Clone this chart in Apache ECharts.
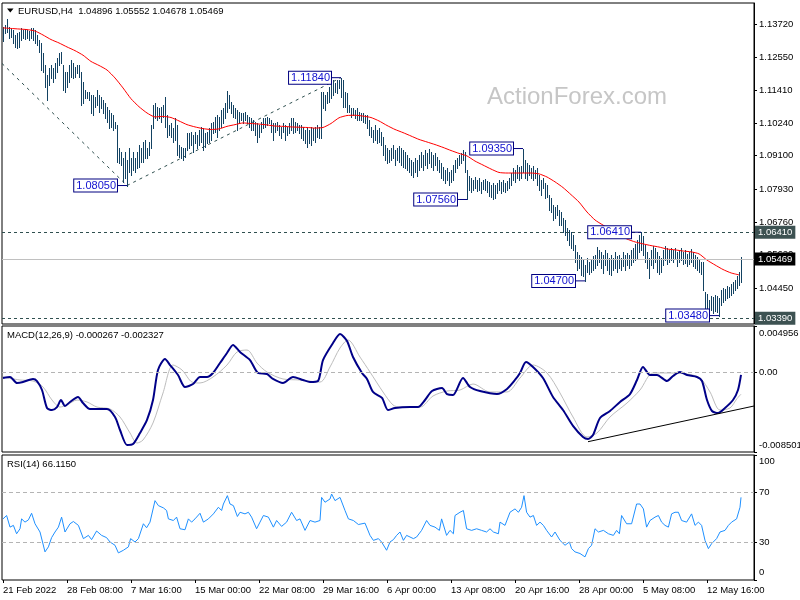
<!DOCTYPE html>
<html><head><meta charset="utf-8">
<script src="https://cdn.jsdelivr.net/npm/echarts@6/dist/echarts.min.js"></script>
<style>html,body{margin:0;padding:0;background:#fff}#c{width:800px;height:600px}</style>
</head><body><div id="c"></div>
<script>
// ---- DATA ----
const symbolName = 'EURUSD,H4';
const lastBar = {open:1.04896, high:1.05552, low:1.04678, close:1.05469};
const highs = [
1.1362,1.1369,1.1390,1.1362,1.1359,1.1352,1.1334,1.1341,1.1345,1.1359,
1.1352,1.1355,1.1352,1.1348,1.1359,1.1359,1.1352,1.1334,1.1316,1.1306,
1.1271,1.1229,1.1193,1.1218,1.1229,1.1218,1.1236,1.1253,1.1271,1.1274,
1.1229,1.1204,1.1204,1.1229,1.1246,1.1236,1.1221,1.1229,1.1229,1.1204,
1.1169,1.1141,1.1134,1.1134,1.1123,1.1123,1.1116,1.1141,1.1123,1.1116,
1.1106,1.1095,1.1081,1.1070,1.1060,1.1053,1.1028,1.1018,1.0937,1.0923,
1.0902,1.0923,1.0895,1.0937,1.0902,1.0923,1.0902,1.0923,1.0948,1.0937,
1.0958,1.0965,1.0937,1.0958,1.1018,1.1088,1.1095,1.1081,1.1077,1.1081,
1.1088,1.1116,1.1053,1.1018,1.1025,1.1007,1.1042,1.1018,1.0948,1.0940,
1.0937,1.0937,1.0990,1.0990,1.0993,1.0983,1.0993,1.0983,1.1000,1.1011,
1.1007,1.0990,1.0993,1.1007,1.1025,1.1028,1.1046,1.1053,1.1046,1.1070,
1.1077,1.1095,1.1137,1.1123,1.1099,1.1088,1.1077,1.1070,1.1063,1.1060,
1.1060,1.1063,1.1053,1.1046,1.1042,1.1035,1.1028,1.1025,1.1018,1.1028,
1.1042,1.1042,1.1046,1.1042,1.1035,1.1025,1.1025,1.1028,1.1018,1.1011,
1.1025,1.1018,1.1011,1.1025,1.1042,1.1042,1.1028,1.1025,1.1018,1.1018,
1.1011,1.1000,1.1007,1.1000,1.1011,1.1007,1.1011,1.1018,1.1011,1.1134,
1.1134,1.1123,1.1134,1.1151,1.1165,1.1176,1.1165,1.1176,1.1176,1.1184,
1.1176,1.1134,1.1130,1.1088,1.1077,1.1077,1.1070,1.1077,1.1063,1.1060,
1.1060,1.1053,1.1053,1.1035,1.1011,1.1000,1.1018,1.1000,1.1007,1.0993,
1.0976,1.0948,1.0937,1.0930,1.0937,1.0948,1.0930,1.0937,1.0944,1.0937,
1.0930,1.0923,1.0912,1.0902,1.0895,1.0888,1.0902,1.0895,1.0912,1.0923,
1.0912,1.0930,1.0919,1.0933,1.0923,1.0912,1.0919,1.0905,1.0895,1.0884,
1.0870,1.0860,1.0867,1.0853,1.0860,1.0877,1.0895,1.0902,1.0912,1.0919,
1.0930,1.0923,1.0860,1.0839,1.0832,1.0825,1.0835,1.0825,1.0832,1.0817,
1.0825,1.0828,1.0821,1.0817,1.0807,1.0814,1.0807,1.0814,1.0825,1.0817,
1.0825,1.0814,1.0821,1.0832,1.0849,1.0867,1.0860,1.0877,1.0870,1.0874,
1.0935,1.0895,1.0884,1.0877,1.0867,1.0874,1.0860,1.0867,1.0842,1.0825,
1.0832,1.0814,1.0807,1.0772,1.0761,1.0737,1.0730,1.0737,1.0719,1.0712,
1.0691,1.0684,1.0656,1.0649,1.0642,1.0631,1.0596,1.0572,1.0561,1.0554,
1.0543,1.0526,1.0551,1.0536,1.0543,1.0558,1.0561,1.0589,1.0579,1.0572,
1.0561,1.0579,1.0568,1.0551,1.0561,1.0551,1.0572,1.0558,1.0561,1.0551,
1.0572,1.0561,1.0568,1.0561,1.0579,1.0586,1.0600,1.0614,1.0631,1.0641,
1.0627,1.0596,1.0572,1.0551,1.0579,1.0593,1.0586,1.0572,1.0558,1.0551,
1.0579,1.0593,1.0586,1.0579,1.0586,1.0579,1.0586,1.0572,1.0579,1.0586,
1.0572,1.0579,1.0565,1.0572,1.0582,1.0572,1.0561,1.0554,1.0543,1.0536,
1.0536,1.0431,1.0424,1.0403,1.0417,1.0414,1.0421,1.0417,1.0410,1.0438,
1.0445,1.0442,1.0452,1.0449,1.0459,1.0466,1.0473,1.0487,1.0501,1.05552];
const lows = [
1.1313,1.1341,1.1345,1.1323,1.1327,1.1306,1.1292,1.1288,1.1292,1.1316,
1.1323,1.1320,1.1323,1.1316,1.1323,1.1316,1.1306,1.1299,1.1274,1.1211,
1.1204,1.1151,1.1106,1.1158,1.1183,1.1169,1.1183,1.1204,1.1229,1.1236,
1.1141,1.1134,1.1151,1.1169,1.1186,1.1183,1.1186,1.1200,1.1186,1.1088,
1.1095,1.1113,1.1113,1.1106,1.1060,1.1053,1.1081,1.1088,1.1063,1.1077,
1.1060,1.1042,1.1028,1.1007,1.1011,1.1000,1.1007,1.0888,1.0884,1.0877,
1.0817,1.0832,1.0805,1.0853,1.0842,1.0860,1.0853,1.0867,1.0870,1.0888,
1.0888,1.0902,1.0902,1.0912,1.0937,1.1007,1.1042,1.1035,1.1042,1.1028,
1.1046,1.1011,1.0976,1.0983,1.0976,1.0958,1.0965,1.0912,1.0905,1.0902,
1.0895,1.0905,1.0930,1.0937,1.0948,1.0923,1.0955,1.0937,1.0948,1.0958,
1.0930,1.0940,1.0955,1.0958,1.0965,1.0990,1.0993,1.0976,1.1000,1.1011,
1.1025,1.1042,1.1063,1.1077,1.1060,1.1046,1.1042,1.1000,1.1025,1.1035,
1.1025,1.1035,1.1025,1.1011,1.1000,1.1000,1.0983,1.0958,1.0976,1.0993,
1.1007,1.1011,1.1018,1.1025,1.0993,1.0965,1.0993,1.1000,1.0983,1.0972,
1.0993,1.0965,1.0983,1.0990,1.1000,1.0990,1.0993,1.1000,1.0990,1.0972,
1.0965,1.0955,1.0940,1.0955,1.0948,1.0965,1.0958,1.0976,1.0972,1.0972,
1.1077,1.1070,1.1095,1.1099,1.1113,1.1123,1.1134,1.1130,1.1148,1.1116,
1.1081,1.1081,1.1063,1.1063,1.1046,1.1053,1.1042,1.1035,1.1035,1.1035,
1.1028,1.1025,1.1007,1.0983,1.0976,1.0958,1.0965,1.0955,1.0958,1.0948,
1.0912,1.0895,1.0884,1.0888,1.0895,1.0902,1.0877,1.0895,1.0888,1.0877,
1.0870,1.0867,1.0860,1.0853,1.0842,1.0835,1.0853,1.0839,1.0860,1.0870,
1.0860,1.0877,1.0867,1.0884,1.0870,1.0860,1.0877,1.0860,1.0853,1.0832,
1.0825,1.0814,1.0825,1.0807,1.0817,1.0825,1.0853,1.0867,1.0877,1.0884,
1.0895,1.0853,1.0756,1.0789,1.0782,1.0789,1.0796,1.0786,1.0789,1.0779,
1.0793,1.0789,1.0782,1.0768,1.0765,1.0758,1.0761,1.0779,1.0789,1.0779,
1.0786,1.0782,1.0789,1.0796,1.0807,1.0825,1.0817,1.0832,1.0825,1.0832,
1.0853,1.0832,1.0825,1.0842,1.0832,1.0825,1.0832,1.0807,1.0789,1.0772,
1.0796,1.0761,1.0765,1.0719,1.0712,1.0684,1.0691,1.0702,1.0666,1.0666,
1.0642,1.0631,1.0614,1.0596,1.0586,1.0579,1.0536,1.0508,1.0515,1.0491,
1.0487,1.0470,1.0501,1.0494,1.0501,1.0508,1.0515,1.0526,1.0536,1.0515,
1.0498,1.0526,1.0508,1.0494,1.0491,1.0508,1.0515,1.0501,1.0515,1.0508,
1.0522,1.0508,1.0526,1.0515,1.0526,1.0536,1.0543,1.0551,1.0572,1.0579,
1.0561,1.0536,1.0515,1.0480,1.0526,1.0515,1.0536,1.0501,1.0494,1.0501,
1.0526,1.0543,1.0529,1.0536,1.0543,1.0536,1.0551,1.0522,1.0536,1.0543,
1.0529,1.0533,1.0522,1.0529,1.0536,1.0522,1.0515,1.0508,1.0501,1.0494,
1.0438,1.0368,1.0361,1.0361,1.0368,1.0357,1.0364,1.0361,1.0348,1.0385,
1.0396,1.0403,1.0410,1.0414,1.0421,1.0427,1.0438,1.0445,1.0456,1.04678];
// moving average, one reading every 4 bars
const maStep = 4;
const maVals = [
1.1359,1.1357,1.1355,1.1353,1.1348,1.1334,1.1318,1.1306,1.1292,1.1279,
1.1263,1.1241,1.1227,1.1211,1.1183,1.1148,1.1110,1.1082,1.1060,1.1046,
1.1048,1.1044,1.1032,1.1019,1.1011,1.1005,1.1002,1.1004,1.1013,1.1019,
1.1025,1.1023,1.1021,1.1018,1.1014,1.1013,1.1011,1.1010,1.1009,1.1007,
1.1009,1.1023,1.1043,1.1051,1.1052,1.1049,1.1044,1.1032,1.1016,1.1002,
1.0991,1.0979,1.0967,1.0958,1.0949,1.0939,1.0928,1.0918,1.0909,1.0891,
1.0877,1.0863,1.0851,1.0849,1.0849,1.0849,1.0849,1.0846,1.0835,1.0818,
1.0798,1.0773,1.0747,1.0712,1.0684,1.0666,1.0649,1.0631,1.0617,1.0607,
1.0600,1.0594,1.0589,1.0582,1.0579,1.0575,1.0572,1.0565,1.0543,1.0526,
1.0510,1.0498,1.0491];
const macdIdx = [0,3.5,7,10,15,17,19.5,22,24.5,27,29,31,33.5,37.5,40,43.5,52,56,58.5,62,65,68.5,72,75,77.5,81,83.5,87.5,91,95,98.5,102,105,108.5,112,115,118.5,123.5,127.5,132,135,140,145,150,153.5,157.5,160,165,168.5,172,175,179.5,182,185,189.5,192.5,196,203.5,207.5,211,214.5,219.5,222,225,230,233.5,238.5,247,252,256,258.5,261.5,265,270,275,280,285,290,292.5,295,298.5,303.5,308.5,313.5,317,320,323.5,327,332,335,338.5,342,347,349.5,352,354.5,357.5,361,365,367.5,369];
const macdVals = [-0.00060,-0.00049,-0.00113,-0.00103,-0.00070,-0.00092,-0.00188,-0.00380,-0.00402,-0.00370,-0.00295,-0.00359,-0.00316,-0.00263,-0.00327,-0.00391,-0.00391,-0.00476,-0.00615,-0.00775,-0.00765,-0.00647,-0.00508,-0.00295,0.00026,0.00143,0.00079,-0.00028,-0.00156,-0.00124,-0.00049,-0.00049,-0.00006,0.00100,0.00207,0.00293,0.00218,0.00132,-0.00006,-0.00017,-0.00070,-0.00113,-0.00049,-0.00081,-0.00103,-0.00092,0.00132,0.00314,0.00410,0.00335,0.00164,-0.00006,-0.00070,-0.00209,-0.00273,-0.00402,-0.00380,-0.00370,-0.00370,-0.00295,-0.00199,-0.00167,-0.00231,-0.00241,-0.00060,-0.00156,-0.00199,-0.00231,-0.00177,-0.00081,-0.00006,0.00111,0.00058,-0.00060,-0.00263,-0.00402,-0.00572,-0.00690,-0.00711,-0.00669,-0.00487,-0.00412,-0.00316,-0.00231,-0.00081,0.00058,-0.00028,-0.00028,-0.00092,-0.00038,0.00004,-0.00028,-0.00049,-0.00092,-0.00295,-0.00412,-0.00434,-0.00380,-0.00295,-0.00188,-0.000267];
const sigIdx = [0,8.5,15,20,24.5,28.5,32,37,42,47,53.5,58.5,63.5,67,70,75,80,85,89.5,94.5,98.5,105,112,117,122,127,132,140,148.5,158.5,163.5,168.5,172.5,178.5,183.5,190,195,198.5,208.5,215,222,228.5,235,243.5,252,258.5,265,272,278.5,285,292,297,303.5,312,318.5,325,332,342,348.5,353.5,358.5,363.5,367,369];
const sigVals = [-0.00049,-0.00081,-0.00092,-0.00156,-0.00295,-0.00370,-0.00348,-0.00295,-0.00316,-0.00370,-0.00391,-0.00476,-0.00647,-0.00754,-0.00722,-0.00540,-0.00220,0.00079,0.00026,-0.00103,-0.00113,-0.00049,0.00079,0.00218,0.00239,0.00100,0.00004,-0.00070,-0.00081,-0.00103,0.00058,0.00261,0.00346,0.00164,0.00004,-0.00209,-0.00348,-0.00370,-0.00370,-0.00252,-0.00199,-0.00188,-0.00124,-0.00209,-0.00209,-0.00060,0.00079,-0.00006,-0.00220,-0.00476,-0.00690,-0.00647,-0.00476,-0.00327,-0.00188,-0.00006,-0.00006,-0.00017,-0.00060,-0.00209,-0.00402,-0.00380,-0.00280,-0.002327];
const rsiIdx = [0,1.8,3.5,5.2,6.8,8.5,9.3,11,12.7,14.3,16,18.5,21,22.7,24.3,26,27.7,29.3,31,33.5,35.2,37.7,40.2,42.7,44.3,46.8,49.3,51.8,53.5,56,57.7,60.2,62.7,63.8,66,67.7,70.2,71.8,73.5,76,77.7,80.2,81.8,82.7,85.2,86.8,88.5,91,92.7,94.3,96,98.5,100.2,102.7,105.2,107.7,109.3,110.2,112.2,113.5,115.2,117.2,118.5,121,122.7,124.3,126.8,128.5,130.2,132.7,135.2,136.8,139.3,141.8,144.3,146.8,148.5,151,153.5,156,158.5,159.3,161,163.5,164.3,166,168.5,171,172.7,175.2,177.7,181,183.5,185.2,187.7,189.3,191.8,193.5,195.2,196.8,198.5,200.2,201.8,205.2,206.8,209.3,211.8,213.5,216,218.2,219.3,221.8,223.5,225.2,226,228.5,230.2,231.8,234.3,236.8,239.3,241.8,243.5,245.2,247.7,248.5,251,253.5,256,257.7,259.3,260.5,261.8,263.5,265.2,266.8,268.5,270.2,271.8,274.3,276,278.5,281,283.2,284.3,286,288.5,291,292.7,294.3,296,297.7,300.2,302.7,305.2,306.8,308.2,309.3,311.8,314.3,316.8,318.5,320.2,321.8,323.5,326,327.7,329.3,331,332.7,334.3,336,337.7,339.3,341.8,344.3,346,347.7,349.3,351,352.7,354.3,356.8,358.5,361,362.7,364.3,366.8,368.5,369];
const rsiVals = [48.9,51.6,42.3,43.7,37.0,41.0,48.9,46.3,48.1,53.4,45.0,38.4,22.5,26.5,33.9,38.4,42.3,50.3,38.4,45.0,46.8,43.7,33.1,35.7,32.3,39.2,35.7,33.9,30.4,27.8,21.7,23.8,26.5,33.1,30.4,33.1,45.0,41.8,46.3,63.5,59.5,57.7,55.6,48.9,47.6,50.3,41.0,40.2,48.9,46.3,48.9,53.4,46.3,48.9,52.9,58.2,55.6,60.8,67.5,60.8,59.5,50.8,54.2,52.9,54.2,50.3,41.0,46.3,51.6,50.3,42.3,47.6,42.9,46.3,54.2,47.6,48.9,39.7,47.6,46.3,47.6,66.1,62.2,64.8,68.8,63.5,66.1,55.6,48.9,47.6,44.4,45.5,35.7,31.7,33.1,30.4,23.8,30.4,32.3,35.7,38.4,31.7,35.7,33.1,34.4,39.7,47.6,43.7,42.3,39.7,48.9,35.7,39.7,37.0,51.6,54.2,55.6,41.0,39.7,41.0,39.7,38.4,41.0,38.4,37.0,46.3,43.7,54.2,56.9,54.2,58.2,67.5,54.2,50.3,51.6,43.7,46.3,43.7,39.7,34.4,38.4,31.7,27.8,30.4,25.1,22.5,21.2,18.5,25.1,27.8,41.0,38.4,39.7,37.0,35.7,39.7,37.0,51.6,45.0,45.0,60.8,60.8,56.9,42.3,47.6,50.3,51.6,46.3,43.7,42.3,52.9,54.2,54.2,47.6,46.3,52.9,43.7,46.3,43.7,31.7,25.1,29.1,33.1,38.4,39.7,43.7,46.3,48.9,58.2,66.115];
const macdTrend = [[292.5,-0.0074],[375.5,-0.00359]];
const priceTrend1 = [[-0.5,1.1234],[62,1.0805]];
const priceTrend2 = [[62,1.0805],[169,1.1184]];
const annIdx = [62,169,232,260,291,319,358];
const annPrice = [1.08050,1.11840,1.07560,1.09350,1.04700,1.06410,1.03480];
const levelLines = [1.06410, 1.03390];
const priceTicks = [1.13720,1.12550,1.11410,1.10240,1.09100,1.07930,1.06760,1.05620,1.04450];
const macdTicks = [0.004956, 0, -0.008501];
const rsiTicks = [100,70,30,0];
const rsiLevels = [70,30];
const tickIdx = [0,32,64,96,128,160,192,224,256,288,320,352];
const tickLabels = ['21 Feb 2022','28 Feb 08:00','7 Mar 16:00','15 Mar 00:00','22 Mar 08:00','29 Mar 16:00','6 Apr 00:00','13 Apr 08:00','20 Apr 16:00','28 Apr 00:00','5 May 08:00','12 May 16:00'];
const macdLast = -0.000267, sigLast = -0.002327, rsiLast = 66.1150;

// ---- CHECKS ----
if (highs.length !== lows.length) throw new Error('bar arrays ' + highs.length + ' ' + lows.length);
if (macdIdx.length !== macdVals.length) throw new Error('macd ' + macdIdx.length + ' ' + macdVals.length);
if (sigIdx.length !== sigVals.length) throw new Error('sig ' + sigIdx.length + ' ' + sigVals.length);
if (rsiIdx.length !== rsiVals.length) throw new Error('rsi ' + rsiIdx.length + ' ' + rsiVals.length);

// ---- CHART ----
const FONT = '"Liberation Sans", Arial, sans-serif';
const FS = 9.5;
const barColor = '#134262';
const chart = echarts.init(document.getElementById('c'), null, {renderer:'canvas'});
const XMIN = -0.5, XMAX = 375.5;

function xAxisCfg(gi, showLabels) {
  return {
    type:'value', gridIndex:gi, min:XMIN, max:XMAX,
    axisLine:{show:false}, splitLine:{show:false},
    axisTick:{show:showLabels, customValues:tickIdx, length:3, lineStyle:{color:'#000'}},
    axisLabel:{show:showLabels, customValues:tickIdx, align:'left', margin:5,
      fontSize:FS, fontFamily:FONT, color:'#000',
      formatter:v => tickLabels[tickIdx.indexOf(Math.round(v))] || ''}
  };
}
function edgeRich() {
  const base = {fontSize:FS, fontFamily:FONT, color:'#000'};
  return {
    t:Object.assign({padding:[15,0,0,0]}, base), b:Object.assign({padding:[0,0,13,0]}, base),
    t2:Object.assign({padding:[13,0,0,0]}, base), b2:Object.assign({padding:[0,0,15,0]}, base)
  };
}
function yAxisCfg(gi, min, max, ticks, fmt) {
  return {
    type:'value', gridIndex:gi, position:'right', min:min, max:max, scale:true,
    axisLine:{show:true, onZero:false, lineStyle:{color:'#000'}},
    splitLine:{show:false},
    axisTick:{show:true, customValues:ticks, length:3, lineStyle:{color:'#000'}},
    axisLabel:{show:true, customValues:ticks, margin:5, fontSize:FS, fontFamily:FONT, color:'#000',
      formatter:fmt, rich:edgeRich()}
  };
}

const series = [];
// price bars
series.push({
  type:'custom', name:'bars', xAxisIndex:0, yAxisIndex:0,
  data: highs.map((h,i)=>[i,h,lows[i]]),
  encode:{x:0, y:[1,2]},
  renderItem:(params, api) => {
    const p1 = api.coord([api.value(0), api.value(1)]);
    const p2 = api.coord([api.value(0), api.value(2)]);
    const x = Math.round(p1[0]) + 0.5;
    return {type:'line', shape:{x1:x, y1:Math.round(p1[1]), x2:x, y2:Math.round(p2[1])+1},
      style:{stroke:barColor, lineWidth:1}};
  },
  z:3, silent:true
});
// moving average + level lines
series.push({
  type:'line', name:'ma', xAxisIndex:0, yAxisIndex:0,
  data: maVals.map((v,k)=>[k*maStep, v]), symbol:'none', smooth:0.2,
  lineStyle:{color:'#ff0000', width:1}, z:4, silent:true,
  markLine:{
    silent:true, symbol:['none','none'], animation:false, precision:5,
    data:[
      {yAxis:levelLines[0], lineStyle:{type:[3,3], color:'#2f4f4f', width:1},
        label:{backgroundColor:'#3d5252'}},
      {yAxis:lastBar.close, lineStyle:{type:'solid', color:'#c0c0c0', width:1},
        label:{backgroundColor:'#000'}},
      {yAxis:levelLines[1], lineStyle:{type:[3,3], color:'#2f4f4f', width:1},
        label:{backgroundColor:'#3d5252'}}
    ],
    label:{show:true, position:'end', distance:1, color:'#fff', fontSize:FS, fontFamily:FONT,
      padding:[2,3,1,3], formatter:p => Number(p.value).toFixed(5)}
  }
});
// dashed price trend lines
[priceTrend1, priceTrend2].forEach(tr => series.push({
  type:'line', xAxisIndex:0, yAxisIndex:0, data:tr, symbol:'none', silent:true,
  lineStyle:{color:'#2f4f4f', width:1, type:[3,4]}, z:2
}));
// annotation boxes with connectors
annIdx.forEach((ix,k) => {
  const p = annPrice[k];
  series.push({
    type:'line', xAxisIndex:0, yAxisIndex:0, silent:true, z:6,
    symbol:'rect', symbolSize:0.01, itemStyle:{color:'#000080'},
    lineStyle:{color:'#000080', width:1},
    data:[
      {value:[ix-5, p], label:{show:true, position:'left', distance:0, formatter:p.toFixed(5),
        color:'#1010d0', fontSize:11, fontFamily:FONT, backgroundColor:'#fff',
        borderColor:'#000080', borderWidth:1, padding:[1,1,0,2]}},
      {value:[ix, p]}
    ]
  });
});
// MACD
series.push({
  type:'line', name:'macd', xAxisIndex:1, yAxisIndex:1, silent:true,
  data: macdIdx.map((x,k)=>[x, macdVals[k]]), symbol:'none', smooth:0.25,
  lineStyle:{color:'#000088', width:2}, z:4
});
series.push({
  type:'line', name:'signal', xAxisIndex:1, yAxisIndex:1, silent:true,
  data: sigIdx.map((x,k)=>[x, sigVals[k]]), symbol:'none', smooth:0.3,
  lineStyle:{color:'#bdbdbd', width:1}, z:3,
  markLine:{silent:true, symbol:['none','none'], animation:false, label:{show:false}, precision:6,
    lineStyle:{color:'#b4b4b4', type:[4,3], width:1}, data:[{yAxis:0}]}
});
series.push({
  type:'line', xAxisIndex:1, yAxisIndex:1, silent:true, data:macdTrend, symbol:'none',
  lineStyle:{color:'#000', width:1}, z:5
});
// RSI
series.push({
  type:'line', name:'rsi', xAxisIndex:2, yAxisIndex:2, silent:true,
  data: rsiIdx.map((x,k)=>[x, rsiVals[k]]), symbol:'none',
  lineStyle:{color:'#1e90ff', width:1}, z:4,
  markLine:{silent:true, symbol:['none','none'], animation:false, label:{show:false},
    lineStyle:{color:'#b4b4b4', type:[4,3], width:1}, data:rsiLevels.map(v=>({yAxis:v}))}
});

const grids = [
  {left:2, top:3, width:752, height:321},
  {left:2, top:326, width:752, height:126},
  {left:2, top:455, width:752, height:125}
].map(g => Object.assign(g, {show:true, borderColor:'#000', borderWidth:1, backgroundColor:'transparent', containLabel:false, outerBoundsMode:'none'}));

const option = {
  animation:false,
  backgroundColor:'#fff',
  textStyle:{fontFamily:FONT},
  grid:grids,
  xAxis:[xAxisCfg(0,false), xAxisCfg(1,false), xAxisCfg(2,true)],
  yAxis:[
    yAxisCfg(0, 1.03185, 1.14464, priceTicks, v => v.toFixed(5)),
    yAxisCfg(1, macdTicks[2], macdTicks[0], macdTicks, v => {
      if (Math.abs(v) < 1e-9) return '0.00';
      if (v > 0) return '{t|' + v.toFixed(6) + '}';
      return '{b|' + v.toFixed(6) + '}';
    }),
    yAxisCfg(2, 0, 100, rsiTicks, v => v === 100 ? '{t2|100}' : (v === 0 ? '{b2|0}' : String(v)))
  ],
  series:series,
  graphic:[
    {type:'text', x:577, y:97, z:0, silent:true,
      style:{text:'ActionForex.com', fill:'#c6c6c6', fontSize:24, fontFamily:FONT,
        align:'center', verticalAlign:'middle', textAlign:'center', textVerticalAlign:'middle'}},
    {type:'polygon', silent:true, shape:{points:[[7,8.5],[13.5,8.5],[10.25,12.5]]}, style:{fill:'#000'}},
    {type:'text', x:18, y:11, silent:true,
      style:{text: symbolName + '  ' + [lastBar.open,lastBar.high,lastBar.low,lastBar.close].map(v=>v.toFixed(5)).join(' '),
        fill:'#000', fontSize:FS, fontFamily:FONT, verticalAlign:'middle', textVerticalAlign:'middle'}},
    {type:'text', x:7, y:335, silent:true,
      style:{text:'MACD(12,26,9) ' + macdLast.toFixed(6) + ' ' + sigLast.toFixed(6),
        fill:'#000', fontSize:FS, fontFamily:FONT, verticalAlign:'middle', textVerticalAlign:'middle'}},
    {type:'text', x:7, y:464, silent:true,
      style:{text:'RSI(14) ' + rsiLast.toFixed(4),
        fill:'#000', fontSize:FS, fontFamily:FONT, verticalAlign:'middle', textVerticalAlign:'middle'}}
  ]
};
chart.setOption(option);
</script>
</body></html>
